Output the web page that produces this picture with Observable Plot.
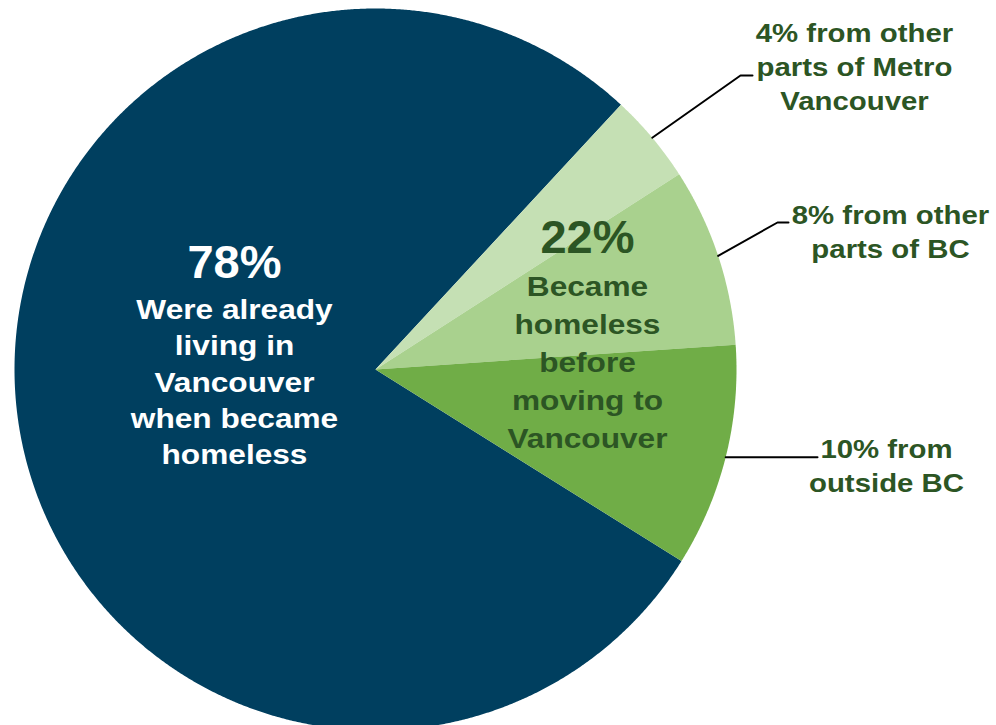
<!DOCTYPE html>
<html><head><meta charset="utf-8">
<script src="https://cdn.jsdelivr.net/npm/d3@7"></script>
<script src="https://cdn.jsdelivr.net/npm/@observablehq/plot@0.6"></script>
<style>html,body{margin:0;padding:0;background:#fff;overflow:hidden}</style>
</head><body><div id="chart"></div>
<script>
// ---- data ----
const categories = ["Already living in Vancouver", "Other parts of Metro Vancouver", "Other parts of BC", "Outside BC"];
const shares = [78, 4, 8, 10];
const colors = ["#003f5f", "#c5e0b4", "#a9d18e", "#70ad47"];
const bigLabels = ["78%", "22%"];
const bigTexts = ["Were already\nliving in\nVancouver\nwhen became\nhomeless", "Became\nhomeless\nbefore\nmoving to\nVancouver"];
const outsideLabels = ["4% from other\nparts of Metro\nVancouver", "8% from other\nparts of BC", "10% from\noutside BC"];

// ---- layout (pixels) ----
const W = 996, H = 725, cx = 375, cy = 369, R = 361;
const startAngle = 122.05 * Math.PI / 180;
const bigPos = [{x: 234, y: 262, bx: 234, by: 379.5, lh: 1.3, fill: "#ffffff"},
                {x: 587, y: 237, bx: 587, by: 359, lh: 1.36, fill: "#2c5524"}];
const outPos = [{x: 854, y: 65, kx: 740, ky: 75, ex: 752},
                {x: 890, y: 229.5, kx: 777, ky: 222, ex: 788},
                {x: 886, y: 463.5, kx: 805, ky: null, ex: 817}];

const pie = d3.pie().sort(null).value(d => d.share).startAngle(startAngle).endAngle(startAngle + 2 * Math.PI);
const arcs = pie(categories.map((c, i) => ({cat: c, share: shares[i]})));
const slicePts = [];
for (const a of arcs) {
  slicePts.push({cat: a.data.cat, px: cx, py: cy});
  const n = Math.max(2, Math.ceil((a.endAngle - a.startAngle) / (Math.PI / 720)));
  for (let k = 0; k <= n; k++) {
    const t = a.startAngle + (a.endAngle - a.startAngle) * k / n;
    slicePts.push({cat: a.data.cat, px: cx + R * Math.sin(t), py: cy - R * Math.cos(t)});
  }
}
const leaderPts = [];
arcs.slice(1).forEach((a, i) => {
  const m = (a.startAngle + a.endAngle) / 2;
  const sx = cx + R * Math.sin(m), sy = cy - R * Math.cos(m);
  const o = outPos[i];
  const ky = o.ky == null ? sy : o.ky;
  leaderPts.push({id: i, px: sx, py: sy}, {id: i, px: o.kx, py: ky}, {id: i, px: o.ex, py: ky});
});

const font = "'Liberation Sans', Arial, sans-serif";
const marks = [
  Plot.line(slicePts, {x: "px", y: "py", z: "cat", fill: "cat", stroke: null, curve: "linear-closed"}),
  Plot.line(leaderPts, {x: "px", y: "py", z: "id", stroke: "#000", strokeWidth: 2})
];
bigLabels.forEach((t, i) => {
  const p = bigPos[i];
  marks.push(Plot.text([t], {x: () => p.x, y: () => p.y, text: d => d, fill: p.fill, fontSize: 47, fontWeight: "bold", fontFamily: font}));
  marks.push(Plot.text([bigTexts[i]], {x: () => p.bx, y: () => p.by, text: d => d, fill: p.fill, fontSize: 28, fontWeight: "bold", fontFamily: font, lineHeight: p.lh}));
});
outsideLabels.forEach((t, i) => {
  const p = outPos[i];
  marks.push(Plot.text([t], {x: () => p.x, y: () => p.y, text: d => d, fill: "#2c5524", fontSize: 26, fontWeight: "bold", fontFamily: font, lineHeight: 1.31}));
});

const chart = Plot.plot({
  width: W, height: H, margin: 0,
  x: {domain: [0, W], axis: null},
  y: {domain: [0, H], reverse: true, axis: null},
  color: {domain: categories, range: colors},
  style: {background: "#fff", overflow: "hidden"},
  marks
});
// horizontally widen the label glyphs about their anchors, as in the reference
d3.select(chart).selectAll("g[font-size='28'] text, g[font-size='26'] text").each(function() {
  const t = this.getAttribute("transform") || "";
  this.setAttribute("transform", t + " scale(1.13,1)");
});
document.getElementById("chart").appendChild(chart);
</script>
</body></html>
